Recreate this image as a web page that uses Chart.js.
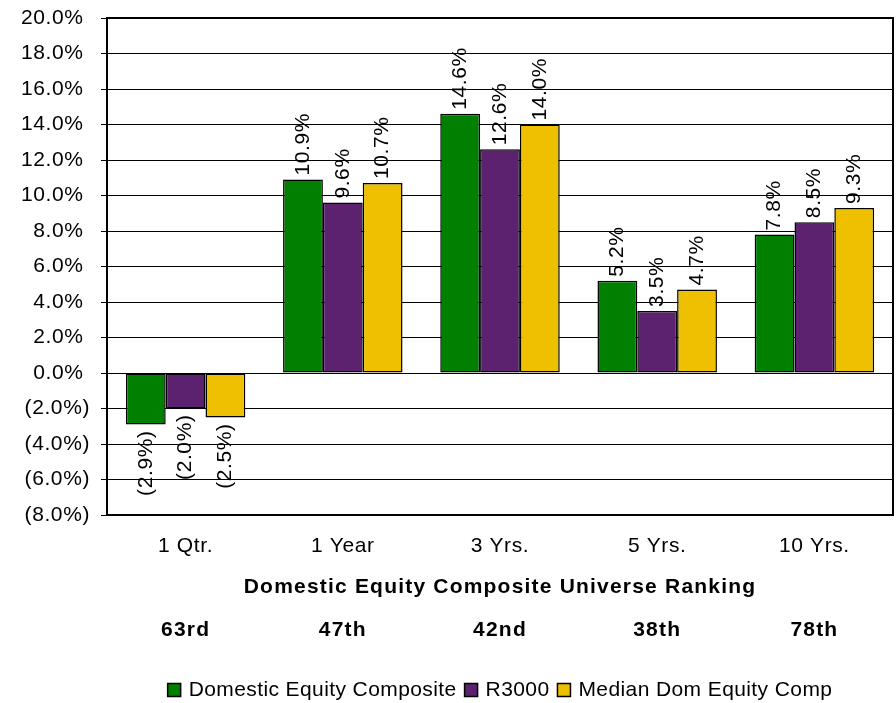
<!DOCTYPE html>
<html>
<head>
<meta charset="utf-8">
<script src="https://cdn.jsdelivr.net/npm/chart.js@4.4.1/dist/chart.umd.min.js"></script>
<style>
  html, body { margin: 0; padding: 0; background: #ffffff; }
  canvas { display: block; }
</style>
</head>
<body>
<canvas id="chart" width="896" height="703" style="width:896px;height:703px"></canvas>
<script>
const categories = ['1 Qtr.', '1 Year', '3 Yrs.', '5 Yrs.', '10 Yrs.'];
const seriesNames = ['Domestic Equity Composite', 'R3000', 'Median Dom Equity Comp'];
const domesticEquity = [-2.9, 10.9, 14.6, 5.2, 7.8];
const r3000 = [-2.0, 9.6, 12.6, 3.5, 8.5];
const medianDomEquity = [-2.5, 10.7, 14.0, 4.7, 9.3];
const rankingTitle = 'Domestic Equity Composite Universe Ranking';
const rankings = ['63rd', '47th', '42nd', '38th', '78th'];
const yMin = -8;
const yMax = 20;
const yStep = 2;
const seriesColors = ['#007F00', '#5C2270', '#EEC000'];

const FONT = '"Liberation Sans", Arial, Helvetica, sans-serif';

function fmtPct(v) {
  return v < 0 ? '(' + Math.abs(v).toFixed(1) + '%)' : v.toFixed(1) + '%';
}

const spacingPlugin = {
  id: 'spacing',
  beforeUpdate(chart) { chart.ctx.letterSpacing = '0.6px'; },
  beforeDraw(chart) { chart.ctx.letterSpacing = '0.6px'; }
};

const frameAndLabels = {
  id: 'frameAndLabels',
  afterDatasetsDraw(chart) {
    const ctx = chart.ctx;
    const a = chart.chartArea;
    ctx.save();
    ctx.letterSpacing = '0.6px';
    ctx.font = '21px ' + FONT;
    ctx.fillStyle = '#000';
    ctx.textBaseline = 'middle';
    chart.data.datasets.forEach((ds, di) => {
      const meta = chart.getDatasetMeta(di);
      meta.data.forEach((el, i) => {
        const v = ds.data[i];
        ctx.save();
        if (v >= 0) {
          ctx.translate(el.x, el.y - 4);
          ctx.rotate(-Math.PI / 2);
          ctx.textAlign = 'left';
        } else {
          ctx.translate(el.x, el.y + 6);
          ctx.rotate(-Math.PI / 2);
          ctx.textAlign = 'right';
        }
        ctx.fillText(fmtPct(v), 0, 0);
        ctx.restore();
      });
    });
    ctx.restore();
    ctx.save();
    ctx.strokeStyle = '#000';
    ctx.lineWidth = 2;
    ctx.strokeRect(a.left, a.top, a.right - a.left, a.bottom - a.top);
    ctx.restore();
  },
  afterDraw(chart) {
    const ctx = chart.ctx;
    const a = chart.chartArea;
    const xs = chart.scales.x;
    ctx.save();
    ctx.fillStyle = '#000';
    ctx.textBaseline = 'middle';
    ctx.textAlign = 'center';
    ctx.font = 'bold 21px ' + FONT;
    ctx.letterSpacing = '1.2px';
    ctx.fillText(rankingTitle, (a.left + a.right) / 2, 587);
    rankings.forEach((r, i) => {
      ctx.fillText(r, xs.getPixelForValue(i), 630);
    });
    ctx.font = '21px ' + FONT;
    ctx.letterSpacing = '0.4px';
    ctx.textAlign = 'left';
    const box = 13, gapBT = 8, gapItem = 8;
    const widths = seriesNames.map(n => ctx.measureText(n).width);
    let total = 0;
    widths.forEach((w, i) => { total += box + gapBT + w + (i < widths.length - 1 ? gapItem : 0); });
    let x = (a.left + a.right) / 2 - total / 2;
    const y = 690;
    chart.data.datasets.forEach((ds, i) => {
      ctx.fillStyle = ds.backgroundColor;
      ctx.fillRect(x, y - box / 2, box, box);
      ctx.strokeStyle = '#000';
      ctx.lineWidth = 1.5;
      ctx.strokeRect(x, y - box / 2, box, box);
      ctx.fillStyle = '#000';
      ctx.fillText(seriesNames[i], x + box + gapBT, y);
      x += box + gapBT + widths[i] + gapItem;
    });
    ctx.restore();
  }
};

const seriesData = [domesticEquity, r3000, medianDomEquity];

new Chart(document.getElementById('chart'), {
  type: 'bar',
  data: {
    labels: categories,
    datasets: seriesNames.map((name, i) => ({
      label: name,
      data: seriesData[i],
      backgroundColor: seriesColors[i],
      borderColor: '#000',
      borderWidth: 1.5,
      borderSkipped: false,
      categoryPercentage: 0.76,
      barPercentage: 1.0
    }))
  },
  options: {
    responsive: false,
    animation: false,
    devicePixelRatio: 1,
    layout: { padding: { top: 18, right: 3, left: 0, bottom: 0 } },
    plugins: {
      legend: { display: false },
      tooltip: { enabled: false }
    },
    scales: {
      x: {
        grid: { display: false },
        border: { display: false },
        ticks: { color: '#000', font: { family: FONT, size: 21 }, padding: 11, maxRotation: 0 },
        afterFit(s) { s.height = 188; s.paddingLeft = 0; s.paddingRight = 0; }
      },
      y: {
        min: yMin,
        max: yMax,
        border: { display: false },
        grid: { color: '#000', lineWidth: 1, drawTicks: true, tickLength: 6, tickColor: '#000' },
        ticks: {
          stepSize: yStep,
          color: '#000',
          padding: 11,
          font: { family: FONT, size: 21 },
          callback: v => (v < 0 ? fmtPct(v) : fmtPct(v) + ' ')
        },
        afterFit(s) { s.width = 107; s.paddingTop = 0; s.paddingBottom = 0; }
      }
    }
  },
  plugins: [spacingPlugin, frameAndLabels]
});
</script>
</body>
</html>
